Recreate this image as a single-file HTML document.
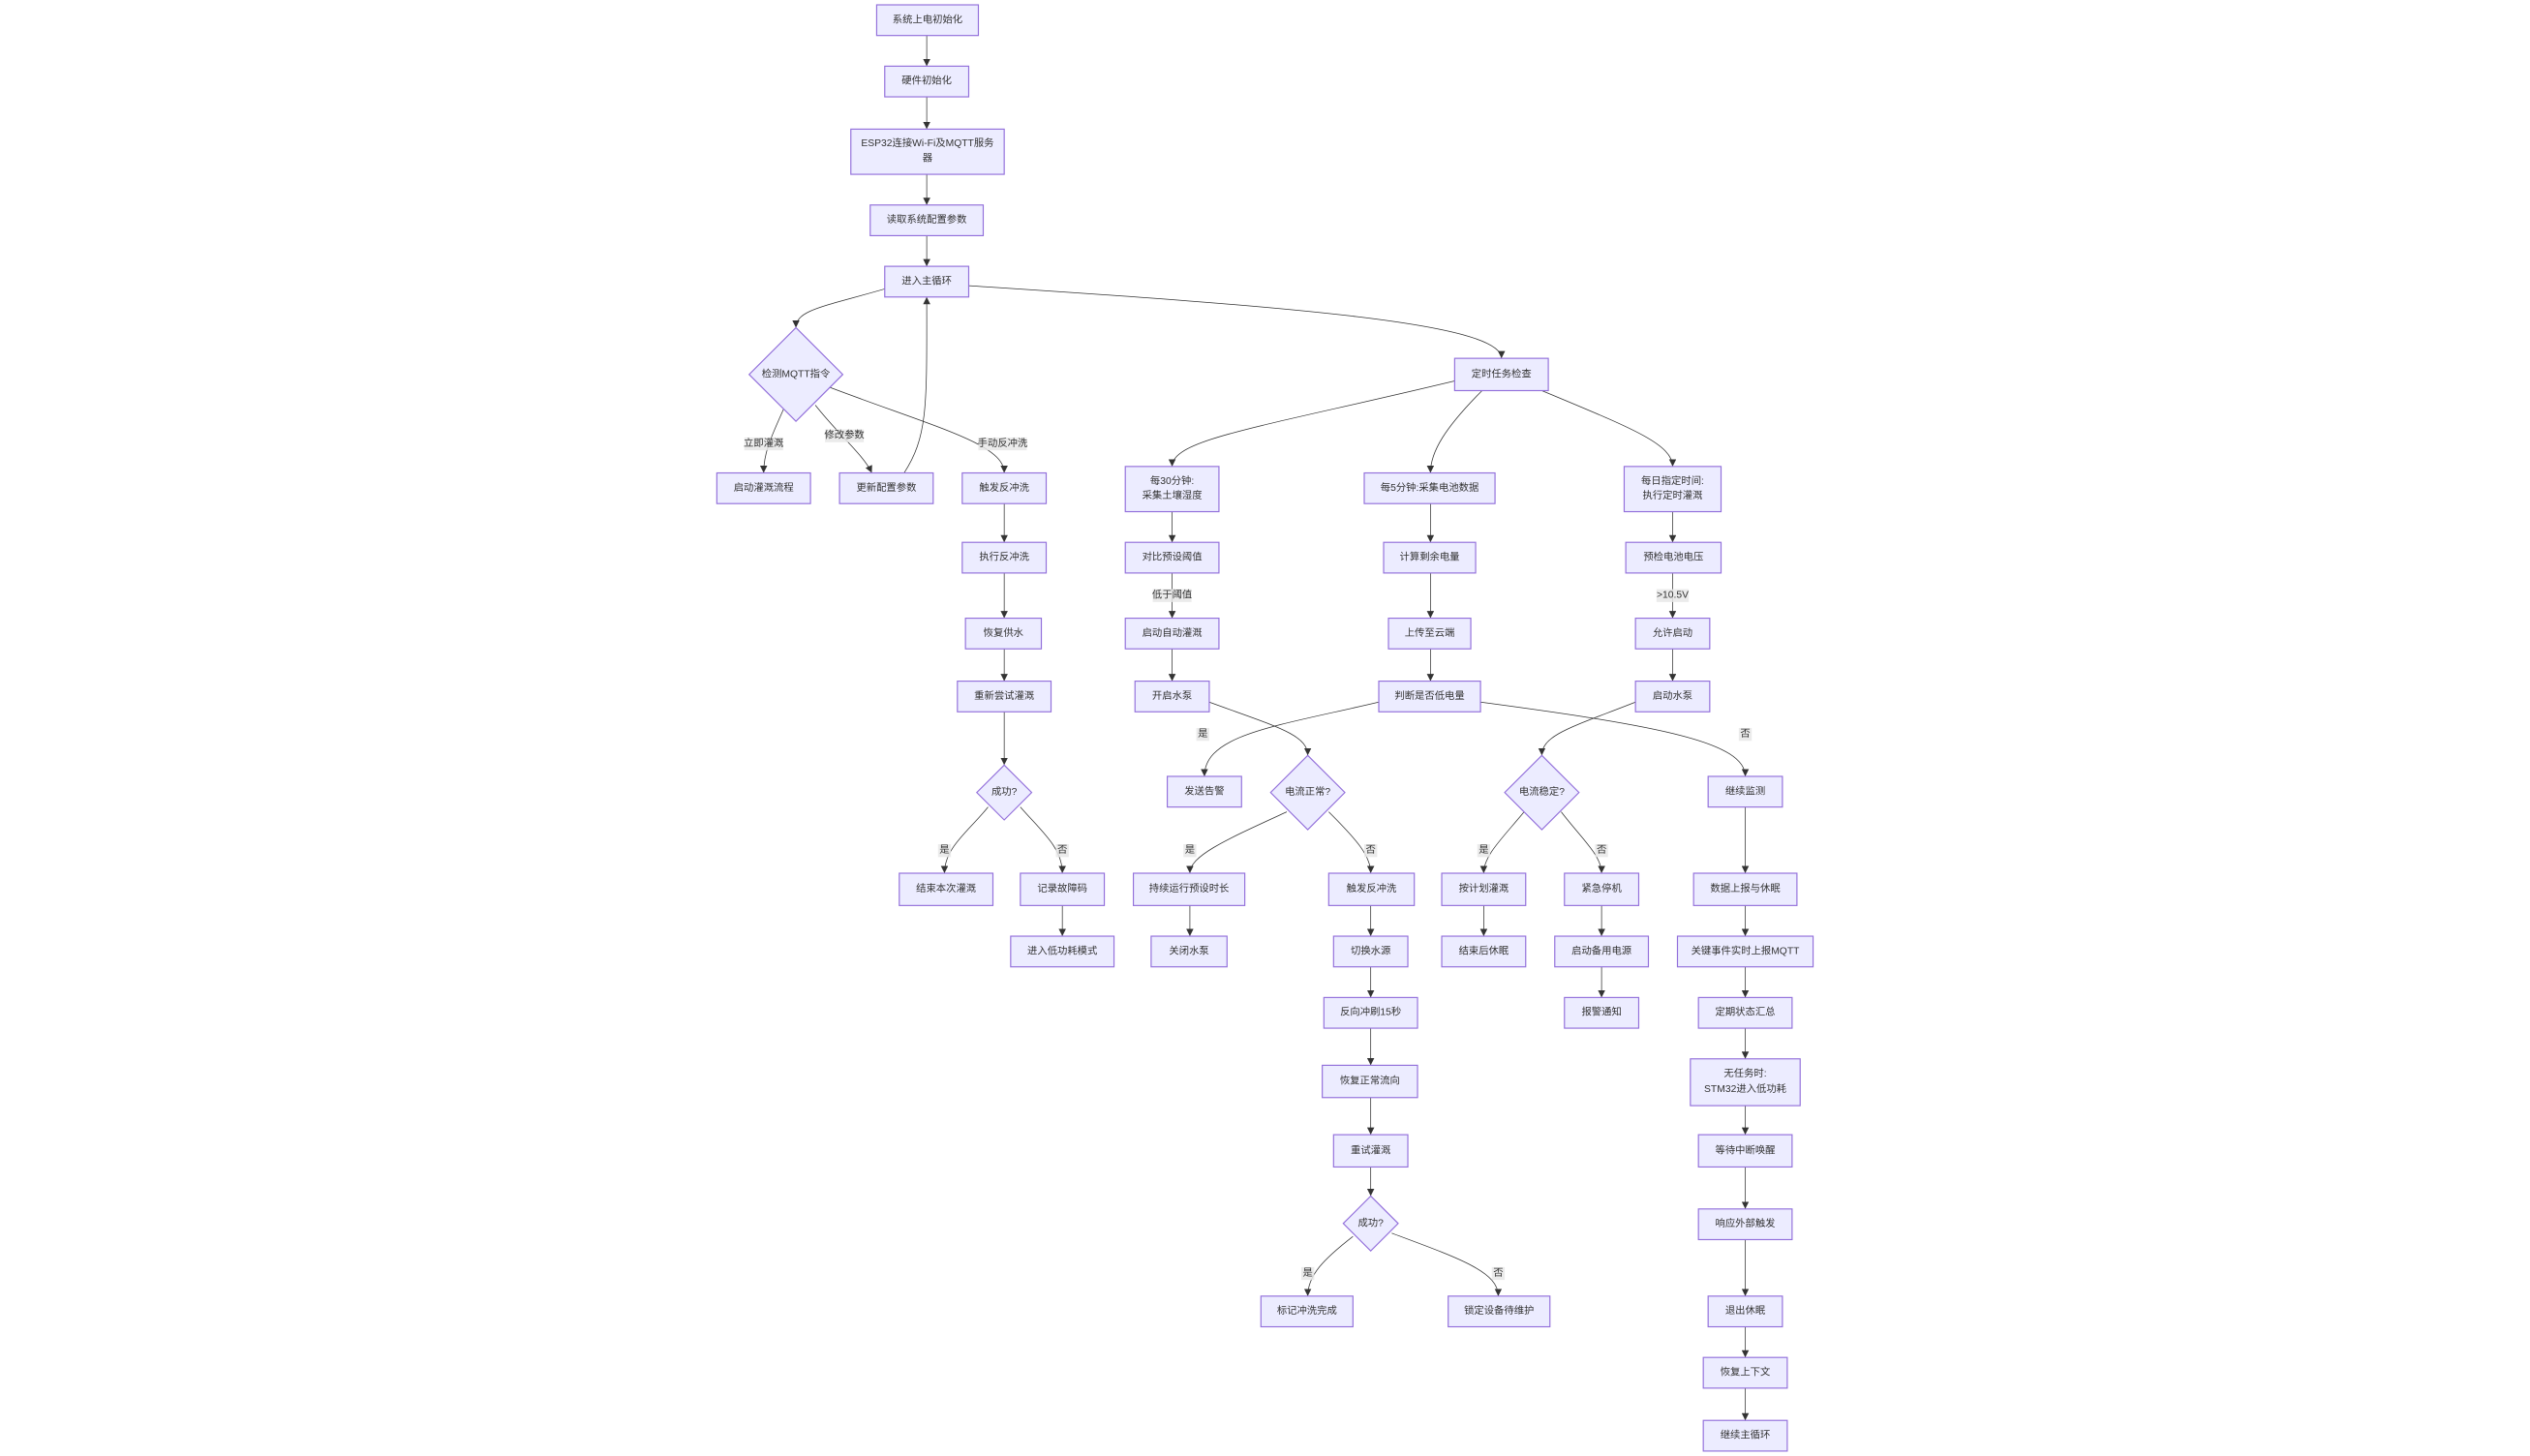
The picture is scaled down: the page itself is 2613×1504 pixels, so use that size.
<!DOCTYPE html>
<html><head><meta charset="utf-8"><style>
html,body{margin:0;padding:0;background:#fff;}
svg{display:block;}
.n{fill:#ECECFF;stroke:#9370DB;stroke-width:0.7;}
.t{font-family:"Liberation Sans","Noto Sans CJK SC",sans-serif;font-size:6.2px;fill:#333;text-anchor:middle;dominant-baseline:central;}
.e{fill:none;stroke:#333;stroke-width:0.45;marker-end:url(#a);}
.lb{fill:#e8e8e8;opacity:0.85;}
</style></head><body>
<svg width="2613" height="1504" viewBox="0 0 1560 898" preserveAspectRatio="none" xmlns="http://www.w3.org/2000/svg">
<defs><marker id="a" viewBox="0 0 10 10" refX="10" refY="5" markerWidth="4.5" markerHeight="4.5" markerUnits="userSpaceOnUse" orient="auto"><path d="M0,0L10,5L0,10z" fill="#333"/></marker></defs>
<g transform="scale(0.9955)">
<path class="e" d="M574,22V41"/>
<path class="e" d="M574,60V80"/>
<path class="e" d="M574,108V127"/>
<path class="e" d="M574,146V165"/>
<path class="e" d="M548,179C510,190 493,192 493,203"/>
<path class="e" d="M600,177C800,190 930,200 930,222"/>
<path class="e" d="M486,252C478,270 473,280 473,293"/>
<path class="e" d="M505,251C520,270 535,282 540,293"/>
<path class="e" d="M514,240C580,265 622,275 622,293"/>
<path class="e" d="M560,293C575,270 574,250 574,184"/>
<path class="e" d="M622,312V336"/>
<path class="e" d="M622,355V383"/>
<path class="e" d="M622,402V422"/>
<path class="e" d="M622,441V474"/>
<path class="e" d="M612,500C600,515 585,525 585,541"/>
<path class="e" d="M632,500C645,515 658,525 658,541"/>
<path class="e" d="M658,561V580"/>
<path class="e" d="M901,236C780,265 726,272 726,289"/>
<path class="e" d="M918,242C895,265 886,280 886,293"/>
<path class="e" d="M955,242C1010,265 1036,275 1036,289"/>
<path class="e" d="M726,317V336"/>
<path class="e" d="M726,355V383"/>
<path class="e" d="M726,402V422"/>
<path class="e" d="M886,312V336"/>
<path class="e" d="M886,355V383"/>
<path class="e" d="M886,402V422"/>
<path class="e" d="M1036,317V336"/>
<path class="e" d="M1036,355V383"/>
<path class="e" d="M1036,402V422"/>
<path class="e" d="M749,435C790,450 810,455 810,468"/>
<path class="e" d="M854,435C790,450 746,455 746,481"/>
<path class="e" d="M917,435C1030,450 1081,460 1081,481"/>
<path class="e" d="M1013,435C975,450 955,455 955,468"/>
<path class="e" d="M797,503C760,520 737,530 737,541"/>
<path class="e" d="M823,503C840,520 849,530 849,541"/>
<path class="e" d="M944,503C930,520 919,530 919,541"/>
<path class="e" d="M967,503C980,520 992,530 992,541"/>
<path class="e" d="M1081,500V541"/>
<path class="e" d="M737,561V580"/>
<path class="e" d="M849,561V580"/>
<path class="e" d="M849,599V618"/>
<path class="e" d="M849,637V660"/>
<path class="e" d="M849,680V703"/>
<path class="e" d="M849,723V741"/>
<path class="e" d="M838,766C820,780 810,790 810,803"/>
<path class="e" d="M862,764C905,780 928,788 928,803"/>
<path class="e" d="M919,561V580"/>
<path class="e" d="M992,561V580"/>
<path class="e" d="M992,599V618"/>
<path class="e" d="M1081,561V580"/>
<path class="e" d="M1081,599V618"/>
<path class="e" d="M1081,637V656"/>
<path class="e" d="M1081,685V703"/>
<path class="e" d="M1081,723V749"/>
<path class="e" d="M1081,768V803"/>
<path class="e" d="M1081,822V841"/>
<path class="e" d="M1081,860V880"/>
<rect class="lb" x="461" y="271" width="24" height="8"/><text class="t" x="473" y="275">立即灌溉</text>
<rect class="lb" x="511" y="266" width="24" height="8"/><text class="t" x="523" y="270">修改参数</text>
<rect class="lb" x="606" y="271" width="30" height="8"/><text class="t" x="621" y="275">手动反冲洗</text>
<rect class="lb" x="714" y="365" width="24" height="8"/><text class="t" x="726" y="369">低于阈值</text>
<rect class="lb" x="1026" y="365" width="20" height="8"/><text class="t" x="1036" y="369">&gt;10.5V</text>
<rect class="lb" x="741" y="451" width="8" height="8"/><text class="t" x="745" y="455">是</text>
<rect class="lb" x="1077" y="451" width="8" height="8"/><text class="t" x="1081" y="455">否</text>
<rect class="lb" x="581" y="523" width="8" height="8"/><text class="t" x="585" y="527">是</text>
<rect class="lb" x="654" y="523" width="8" height="8"/><text class="t" x="658" y="527">否</text>
<rect class="lb" x="733" y="523" width="8" height="8"/><text class="t" x="737" y="527">是</text>
<rect class="lb" x="845" y="523" width="8" height="8"/><text class="t" x="849" y="527">否</text>
<rect class="lb" x="915" y="523" width="8" height="8"/><text class="t" x="919" y="527">是</text>
<rect class="lb" x="988" y="523" width="8" height="8"/><text class="t" x="992" y="527">否</text>
<rect class="lb" x="806" y="785" width="8" height="8"/><text class="t" x="810" y="789">是</text>
<rect class="lb" x="924" y="785" width="8" height="8"/><text class="t" x="928" y="789">否</text>
<rect class="n" x="543" y="3" width="63" height="19"/><text class="t" x="574.5" y="12.5">系统上电初始化</text>
<rect class="n" x="548" y="41" width="52" height="19"/><text class="t" x="574" y="50.5">硬件初始化</text>
<rect class="n" x="527" y="80" width="95" height="28"/><text class="t" x="574.5" y="89">ESP32连接Wi-Fi及MQTT服务</text><text class="t" x="574.5" y="98.5">器</text>
<rect class="n" x="539" y="127" width="70" height="19"/><text class="t" x="574" y="136.5">读取系统配置参数</text>
<rect class="n" x="548" y="165" width="52" height="19"/><text class="t" x="574" y="174.5">进入主循环</text>
<polygon class="n" points="493,203 522,232 493,261 464,232"/><text class="t" x="493" y="232">检测MQTT指令</text>
<rect class="n" x="444" y="293" width="58" height="19"/><text class="t" x="473" y="302.5">启动灌溉流程</text>
<rect class="n" x="520" y="293" width="58" height="19"/><text class="t" x="549" y="302.5">更新配置参数</text>
<rect class="n" x="596" y="293" width="52" height="19"/><text class="t" x="622" y="302.5">触发反冲洗</text>
<rect class="n" x="596" y="336" width="52" height="19"/><text class="t" x="622" y="345.5">执行反冲洗</text>
<rect class="n" x="598" y="383" width="47" height="19"/><text class="t" x="621.5" y="392.5">恢复供水</text>
<rect class="n" x="593" y="422" width="58" height="19"/><text class="t" x="622" y="431.5">重新尝试灌溉</text>
<polygon class="n" points="622,474 639,491 622,508 605,491"/><text class="t" x="622" y="491">成功?</text>
<rect class="n" x="557" y="541" width="58" height="20"/><text class="t" x="586" y="551">结束本次灌溉</text>
<rect class="n" x="632" y="541" width="52" height="20"/><text class="t" x="658" y="551">记录故障码</text>
<rect class="n" x="626" y="580" width="64" height="19"/><text class="t" x="658" y="589.5">进入低功耗模式</text>
<rect class="n" x="901" y="222" width="58" height="20"/><text class="t" x="930" y="232">定时任务检查</text>
<rect class="n" x="697" y="289" width="58" height="28"/><text class="t" x="726" y="298.5">每30分钟:</text><text class="t" x="726" y="307.5">采集土壤湿度</text>
<rect class="n" x="845" y="293" width="81" height="19"/><text class="t" x="885.5" y="302.5">每5分钟:采集电池数据</text>
<rect class="n" x="1006" y="289" width="60" height="28"/><text class="t" x="1036" y="298.5">每日指定时间:</text><text class="t" x="1036" y="307.5">执行定时灌溉</text>
<rect class="n" x="697" y="336" width="58" height="19"/><text class="t" x="726" y="345.5">对比预设阈值</text>
<rect class="n" x="857" y="336" width="57" height="19"/><text class="t" x="885.5" y="345.5">计算剩余电量</text>
<rect class="n" x="1007" y="336" width="59" height="19"/><text class="t" x="1036.5" y="345.5">预检电池电压</text>
<rect class="n" x="697" y="383" width="58" height="19"/><text class="t" x="726" y="392.5">启动自动灌溉</text>
<rect class="n" x="860" y="383" width="51" height="19"/><text class="t" x="885.5" y="392.5">上传至云端</text>
<rect class="n" x="1013" y="383" width="46" height="19"/><text class="t" x="1036" y="392.5">允许启动</text>
<rect class="n" x="703" y="422" width="46" height="19"/><text class="t" x="726" y="431.5">开启水泵</text>
<rect class="n" x="854" y="422" width="63" height="19"/><text class="t" x="885.5" y="431.5">判断是否低电量</text>
<rect class="n" x="1013" y="422" width="46" height="19"/><text class="t" x="1036" y="431.5">启动水泵</text>
<rect class="n" x="723" y="481" width="46" height="19"/><text class="t" x="746" y="490.5">发送告警</text>
<polygon class="n" points="810,468 833,491 810,514 787,491"/><text class="t" x="810" y="491">电流正常?</text>
<polygon class="n" points="955,468 978,491 955,514 932,491"/><text class="t" x="955" y="491">电流稳定?</text>
<rect class="n" x="1058" y="481" width="46" height="19"/><text class="t" x="1081" y="490.5">继续监测</text>
<rect class="n" x="702" y="541" width="69" height="20"/><text class="t" x="736.5" y="551">持续运行预设时长</text>
<rect class="n" x="823" y="541" width="53" height="20"/><text class="t" x="849.5" y="551">触发反冲洗</text>
<rect class="n" x="893" y="541" width="52" height="20"/><text class="t" x="919" y="551">按计划灌溉</text>
<rect class="n" x="969" y="541" width="46" height="20"/><text class="t" x="992" y="551">紧急停机</text>
<rect class="n" x="1049" y="541" width="64" height="20"/><text class="t" x="1081" y="551">数据上报与休眠</text>
<rect class="n" x="713" y="580" width="47" height="19"/><text class="t" x="736.5" y="589.5">关闭水泵</text>
<rect class="n" x="826" y="580" width="46" height="19"/><text class="t" x="849" y="589.5">切换水源</text>
<rect class="n" x="893" y="580" width="52" height="19"/><text class="t" x="919" y="589.5">结束后休眠</text>
<rect class="n" x="963" y="580" width="58" height="19"/><text class="t" x="992" y="589.5">启动备用电源</text>
<rect class="n" x="1039" y="580" width="84" height="19"/><text class="t" x="1081" y="589.5">关键事件实时上报MQTT</text>
<rect class="n" x="820" y="618" width="58" height="19"/><text class="t" x="849" y="627.5">反向冲刷15秒</text>
<rect class="n" x="969" y="618" width="46" height="19"/><text class="t" x="992" y="627.5">报警通知</text>
<rect class="n" x="1052" y="618" width="58" height="19"/><text class="t" x="1081" y="627.5">定期状态汇总</text>
<rect class="n" x="819" y="660" width="59" height="20"/><text class="t" x="848.5" y="670">恢复正常流向</text>
<rect class="n" x="1047" y="656" width="68" height="29"/><text class="t" x="1081" y="665.5">无任务时:</text><text class="t" x="1081" y="675">STM32进入低功耗</text>
<rect class="n" x="826" y="703" width="46" height="20"/><text class="t" x="849" y="713">重试灌溉</text>
<rect class="n" x="1052" y="703" width="58" height="20"/><text class="t" x="1081" y="713">等待中断唤醒</text>
<polygon class="n" points="849,741 866,758 849,775 832,758"/><text class="t" x="849" y="758">成功?</text>
<rect class="n" x="1052" y="749" width="58" height="19"/><text class="t" x="1081" y="758.5">响应外部触发</text>
<rect class="n" x="781" y="803" width="57" height="19"/><text class="t" x="809.5" y="812.5">标记冲洗完成</text>
<rect class="n" x="897" y="803" width="63" height="19"/><text class="t" x="928.5" y="812.5">锁定设备待维护</text>
<rect class="n" x="1058" y="803" width="46" height="19"/><text class="t" x="1081" y="812.5">退出休眠</text>
<rect class="n" x="1055" y="841" width="52" height="19"/><text class="t" x="1081" y="850.5">恢复上下文</text>
<rect class="n" x="1055" y="880" width="52" height="19"/><text class="t" x="1081" y="889.5">继续主循环</text>
</g>
</svg>
</body></html>
